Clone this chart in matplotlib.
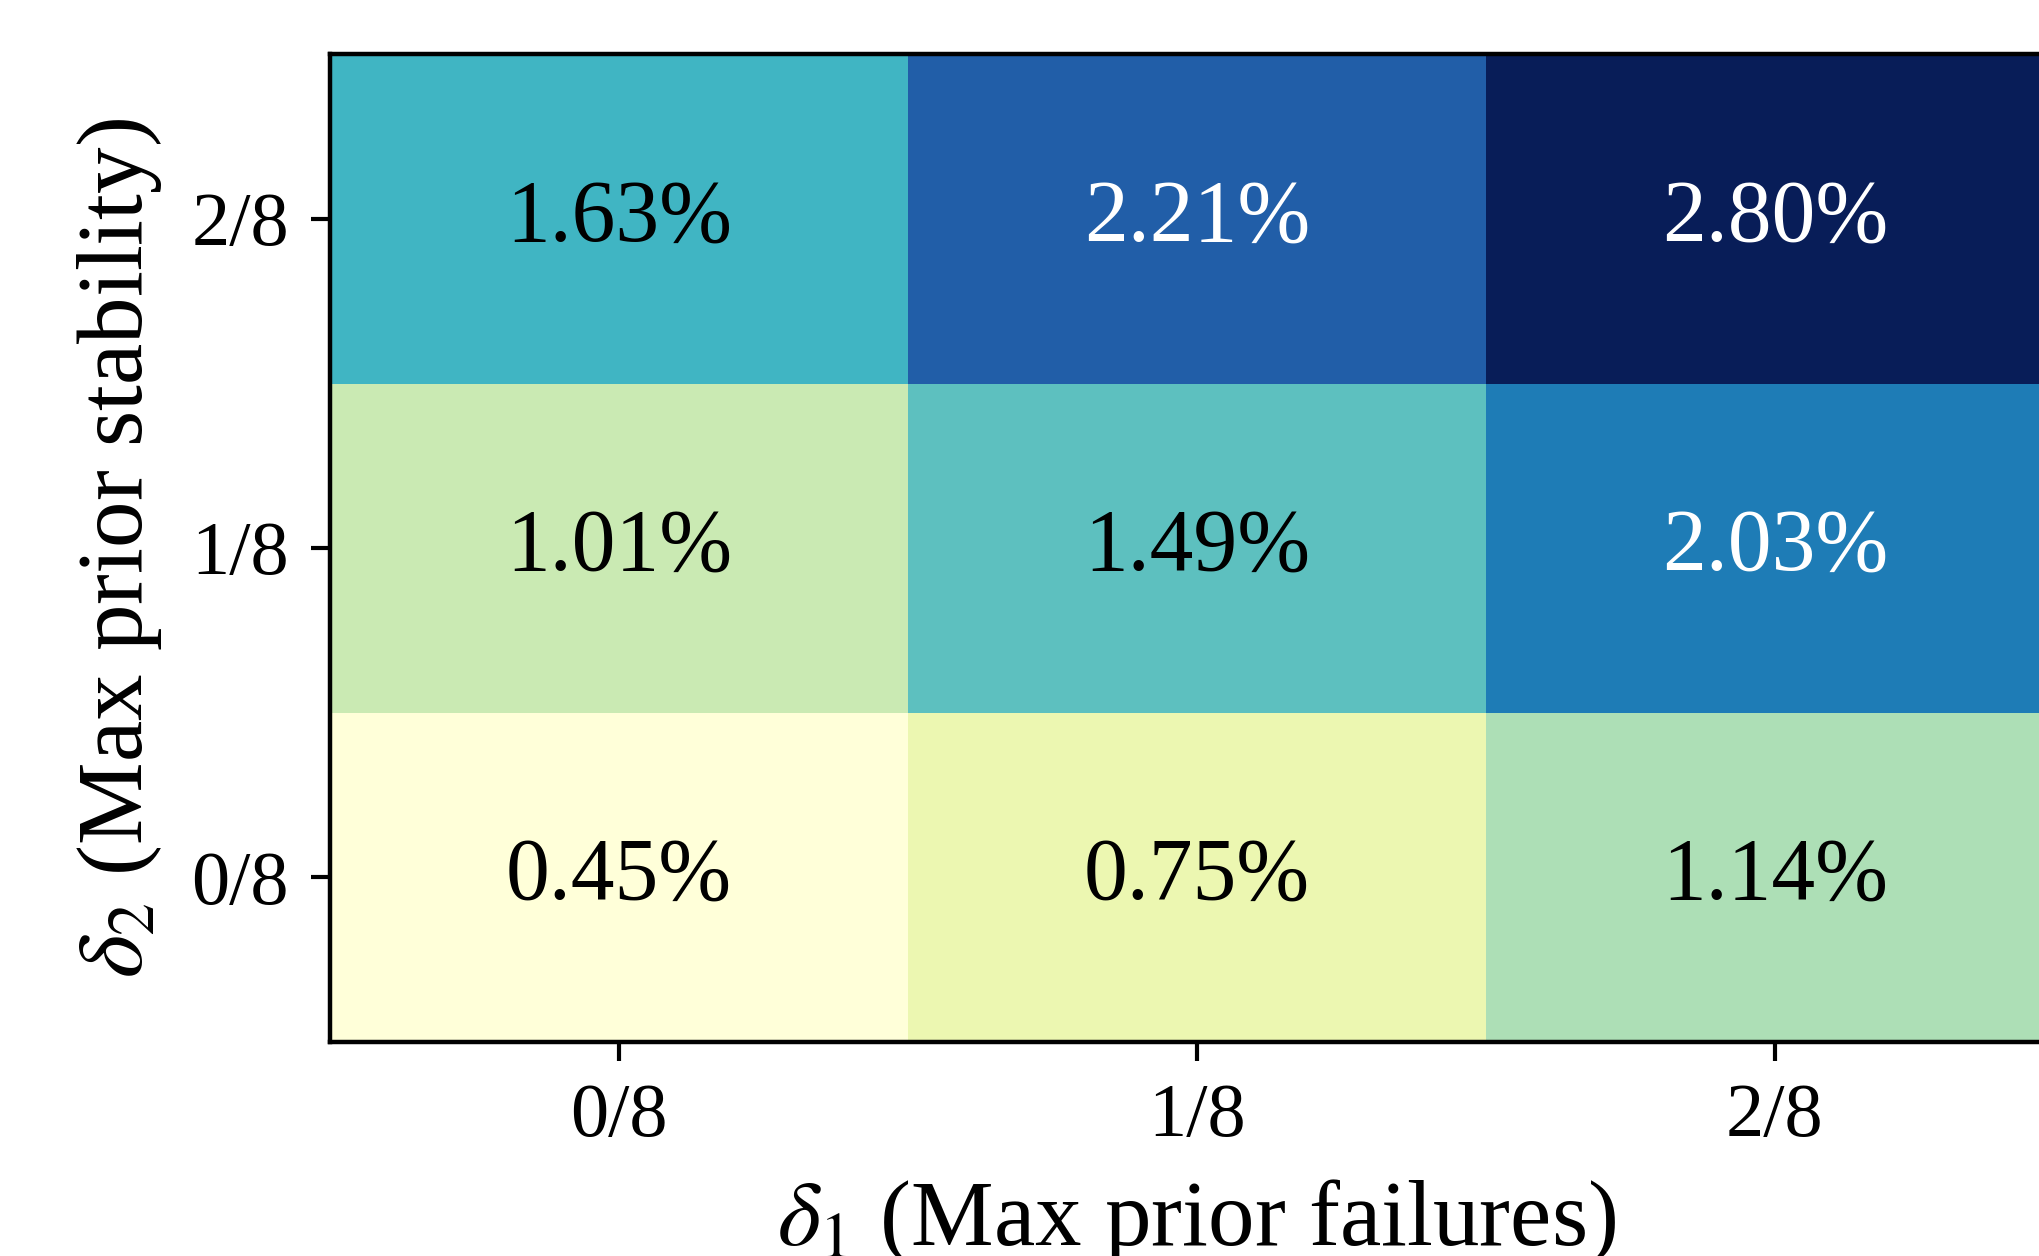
import matplotlib
matplotlib.use("Agg")
import matplotlib.pyplot as plt
import numpy as np

plt.rcParams["font.family"] = ["Liberation Serif", "DejaVu Serif"]
plt.rcParams["mathtext.fontset"] = "stix"

# Max prior failures (columns) and max prior stability (rows, bottom to top)
delta1_labels = ["0/8", "1/8", "2/8"]
delta2_labels = ["0/8", "1/8", "2/8"]

# Percentages; row i corresponds to delta2_labels[i]
row_0_8 = [0.45, 0.75, 1.14]
row_1_8 = [1.01, 1.49, 2.03]
row_2_8 = [1.63, 2.21, 2.80]

values = np.array([row_0_8, row_1_8, row_2_8])

fig = plt.figure(figsize=(20.39, 12.56), dpi=100)
ax = fig.add_axes([0.1618, 0.1704, 0.8504, 0.7866])

cmap = plt.get_cmap("YlGnBu")
vmin, vmax = values.min(), values.max()
im = ax.imshow(values, cmap=cmap, vmin=vmin, vmax=vmax, origin="lower",
               aspect="auto", interpolation="nearest")

# White text on the darker cells, black on the lighter ones
for i in range(values.shape[0]):
    for j in range(values.shape[1]):
        v = values[i, j]
        frac = (v - vmin) / (vmax - vmin)
        color = "white" if frac > 0.6 else "black"
        ax.text(j, i, f"{v:.2f}%", ha="center", va="center",
                fontsize=63, color=color)

ax.set_xticks(range(len(delta1_labels)))
ax.set_xticklabels(delta1_labels)
ax.set_yticks(range(len(delta2_labels)))
ax.set_yticklabels(delta2_labels)
ax.tick_params(axis="both", labelsize=55, length=13.5, width=3, pad=16)

ax.set_xlabel(r"$\delta_1$ (Max prior failures)", fontsize=67, labelpad=18)
ax.set_ylabel(r"$\delta_2$ (Max prior stability)", fontsize=67, labelpad=20)

for sp in ax.spines.values():
    sp.set_linewidth(3.2)
    sp.set_color("black")

fig.savefig("out.png", dpi=100)
